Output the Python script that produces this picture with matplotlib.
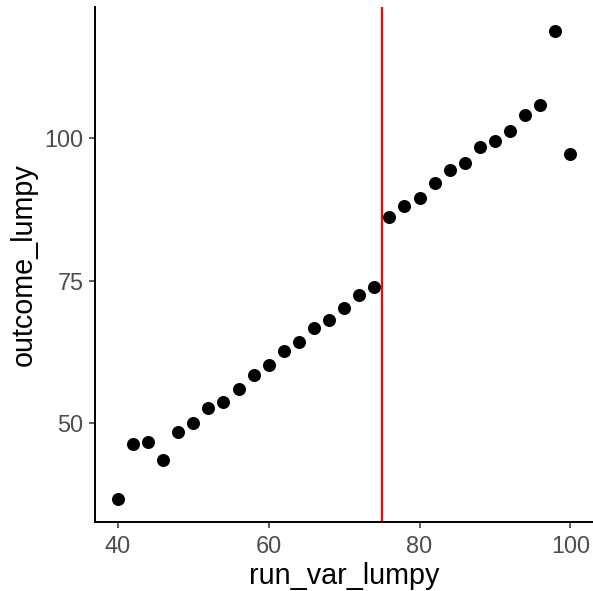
import matplotlib
matplotlib.use('Agg')
from matplotlib import pyplot as plt

plt.rcParams['font.family'] = ['Liberation Sans', 'DejaVu Sans']

# data
run_var_lumpy = [40, 42, 44, 46, 48, 50, 52, 54, 56, 58, 60, 62, 64, 66, 68, 70,
                 72, 74, 76, 78, 80, 82, 84, 86, 88, 90, 92, 94, 96, 98, 100]
outcome_lumpy = [36.7, 46.3, 46.6, 43.6, 48.5, 50.0, 52.6, 53.7, 56.0, 58.4, 60.1,
                 62.6, 64.2, 66.6, 68.0, 70.1, 72.4, 73.9, 86.1, 88.1, 89.5, 92.1,
                 94.3, 95.6, 98.5, 99.4, 101.2, 104.0, 105.8, 118.8, 97.2]
cutoff = 75
x_ticks = [40, 60, 80, 100]
y_ticks = [50, 75, 100]

fig = plt.figure(figsize=(5.93, 5.91), dpi=100)
ax = fig.add_axes([95.3/593, 1 - 522.3/591, (593 - 95.3)/593, (522.3 - 7.4)/591])

ax.scatter(run_var_lumpy, outcome_lumpy, s=88, color='black', linewidths=0, zorder=3)
ax.axvline(cutoff, color='#FF0000', lw=1.6, zorder=2)

# ggplot style 5% padding
xr = max(run_var_lumpy) - min(run_var_lumpy)
yr = max(outcome_lumpy) - min(outcome_lumpy)
ax.set_xlim(min(run_var_lumpy) - 0.05*xr, max(run_var_lumpy) + 0.05*xr)
ax.set_ylim(min(outcome_lumpy) - 0.05*yr, max(outcome_lumpy) + 0.05*yr)
ax.set_xticks(x_ticks)
ax.set_yticks(y_ticks)

for s in ['top', 'right']:
    ax.spines[s].set_visible(False)
for s in ['left', 'bottom']:
    ax.spines[s].set_linewidth(1.4)
    ax.spines[s].set_color('black')

ax.tick_params(length=4.5, width=1.1, color='#333333', labelcolor='#4D4D4D',
               labelsize=16.9)
ax.tick_params(axis='x', pad=4.6)
ax.tick_params(axis='y', pad=4)

ax.set_xlabel('run_var_lumpy', fontsize=20.7, color='black')
ax.set_ylabel('outcome_lumpy', fontsize=20.7, color='black')
ax.xaxis.label.set_va('baseline')
ax.xaxis.set_label_coords(0.5, -0.1189)
ax.yaxis.label.set_rotation_mode('anchor')
ax.yaxis.label.set_va('baseline')
ax.yaxis.label.set_ha('center')
ax.yaxis.set_label_coords(-0.127, 0.5)

fig.savefig('out.png', dpi=100)
